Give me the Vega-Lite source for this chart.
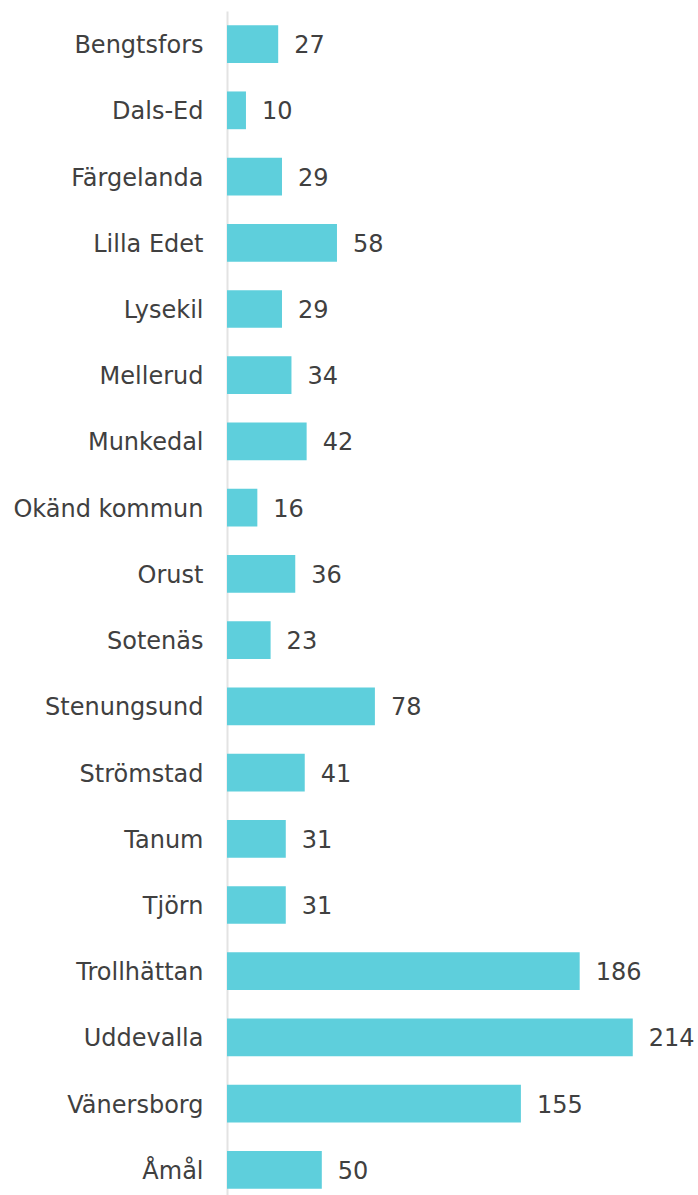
{
  "$schema": "https://vega.github.io/schema/vega-lite/v6.json",
  "width": 471,
  "height": 1192,
  "autosize": {"type": "none"},
  "padding": {"left": 227, "top": 11, "right": 0, "bottom": 0},
  "background": "white",
  "config": {"view": {"stroke": null}, "font": "DejaVu Sans"},
  "data": {
    "values": [
      {"kommun": "Bengtsfors", "antal": 27},
      {"kommun": "Dals-Ed", "antal": 10},
      {"kommun": "Färgelanda", "antal": 29},
      {"kommun": "Lilla Edet", "antal": 58},
      {"kommun": "Lysekil", "antal": 29},
      {"kommun": "Mellerud", "antal": 34},
      {"kommun": "Munkedal", "antal": 42},
      {"kommun": "Okänd kommun", "antal": 16},
      {"kommun": "Orust", "antal": 36},
      {"kommun": "Sotenäs", "antal": 23},
      {"kommun": "Stenungsund", "antal": 78},
      {"kommun": "Strömstad", "antal": 41},
      {"kommun": "Tanum", "antal": 31},
      {"kommun": "Tjörn", "antal": 31},
      {"kommun": "Trollhättan", "antal": 186},
      {"kommun": "Uddevalla", "antal": 214},
      {"kommun": "Vänersborg", "antal": 155},
      {"kommun": "Åmål", "antal": 50}
    ]
  },
  "encoding": {
    "y": {
      "field": "kommun",
      "type": "nominal",
      "sort": null,
      "scale": {"paddingInner": 0.43, "paddingOuter": 0.215},
      "axis": {
        "title": null,
        "ticks": false,
        "labelPadding": 24,
        "labelFontSize": 24,
        "labelLimit": 0,
        "labelOffset": 2,
        "labelColor": "#404040",
        "labelFont": "DejaVu Sans",
        "domainColor": "#e3e3e3",
        "domainWidth": 2
      }
    },
    "x": {
      "field": "antal",
      "type": "quantitative",
      "scale": {"domain": [0, 248.4], "nice": false},
      "axis": null
    }
  },
  "layer": [
    {"mark": {"type": "bar", "color": "#5ECFDC"}},
    {
      "mark": {"type": "text", "align": "left", "baseline": "middle", "dx": 16, "dy": 2, "fontSize": 24, "color": "#404040", "font": "DejaVu Sans"},
      "encoding": {"text": {"field": "antal", "type": "quantitative"}}
    }
  ]
}
